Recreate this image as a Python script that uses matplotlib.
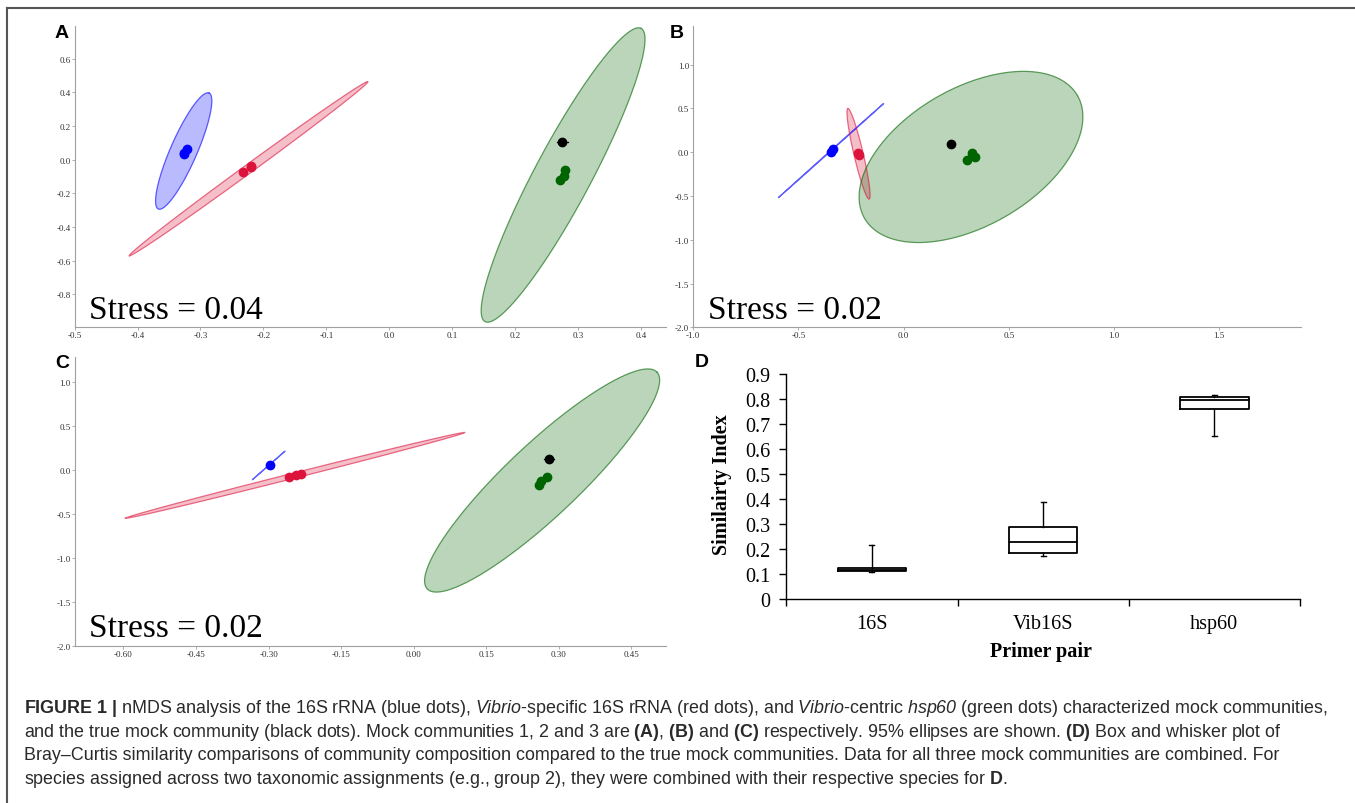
import numpy as np
import matplotlib.pyplot as plt
from matplotlib.lines import Line2D

plt.rcParams['mathtext.fontset'] = 'custom'
plt.rcParams['mathtext.rm'] = 'Liberation Sans'
plt.rcParams['mathtext.it'] = 'Liberation Sans:italic'
plt.rcParams['mathtext.sf'] = 'Liberation Sans:italic'
plt.rcParams['mathtext.bf'] = 'Liberation Sans:bold'

# ---- data ----
# nMDS panels: points per group, and 95% ellipses as (tip1, tip2, minor/major ratio)
a_blue = [(-0.327, 0.040), (-0.322, 0.063), (-0.326, 0.032)]
a_red = [(-0.232, -0.071), (-0.220, -0.042), (-0.219, -0.036)]
a_green = [(0.279, -0.059), (0.277, -0.095), (0.271, -0.121)]
a_black = [(0.275, 0.107)]
a_ell_blue = [(-0.2864, 0.3956), (-0.367, -0.293), 0.21]
a_ell_red = [(-0.413, -0.570), (-0.034, 0.463), 0.03]
a_ell_green = [(0.400, 0.779), (0.152, -0.961), 0.17]
a_black_bar = 0.0093

b_blue = [(-0.347, 0.005), (-0.338, 0.030)]
b_red = [(-0.215, -0.010), (-0.213, -0.030)]
b_green = [(0.327, -0.015), (0.339, -0.060), (0.301, -0.091)]
b_black = [(0.2255, 0.088)]
b_ell_blue = [(-0.594, -0.517), (-0.095, 0.555), 0.004]
b_ell_red = [(-0.265, 0.498), (-0.164, -0.536), 0.10]
b_ell_green = [(0.826, 0.646), (-0.186, -0.756), 0.56]

c_blue = [(-0.298, 0.061)]
c_red = [(-0.258, -0.080), (-0.244, -0.057), (-0.233, -0.038)]
c_green = [(0.276, -0.072), (0.263, -0.118), (0.259, -0.163)]
c_black = [(0.279, 0.122)]
c_ell_blue = [(-0.333, -0.106), (-0.266, 0.217), 0.004]
c_ell_red = [(-0.596, -0.547), (0.106, 0.430), 0.015]
c_ell_green = [(0.503, 1.118), (0.028, -1.353), 0.23]
c_black_bar = 0.0103

stress = ['Stress = 0.04', 'Stress = 0.02', 'Stress = 0.02']

# box plot (D)
primers = ['16S', 'Vib16S', 'hsp60']
whislo = [0.109, 0.173, 0.651]
q1 = [0.114, 0.186, 0.762]
med = [0.119, 0.229, 0.795]
q3 = [0.124, 0.288, 0.808]
whishi = [0.215, 0.390, 0.818]

W, H = 1355, 804
fig = plt.figure(figsize=(W / 100, H / 100), dpi=100)


def px_axes(l, t, r, b):
    return fig.add_axes([l / W, 1 - b / H, (r - l) / W, (b - t) / H])


def ellipse(ax, ell, color, rect):
    (x1, y1), (x2, y2), ratio = ell
    l, t, r, b = rect
    x0, x1l = ax.get_xlim()
    y0, y1l = ax.get_ylim()
    sx = (r - l) / (x1l - x0)
    sy = (b - t) / (y1l - y0)
    cx, cy = (x1 + x2) / 2, (y1 + y2) / 2
    ax_, ay_ = x1 - cx, y1 - cy
    # minor axis perpendicular in screen space
    bx = -ay_ * sy / sx * ratio
    by = ax_ * sx / sy * ratio
    tt = np.linspace(0, 2 * np.pi, 300)
    xs = cx + np.cos(tt) * ax_ + np.sin(tt) * bx
    ys = cy + np.cos(tt) * ay_ + np.sin(tt) * by
    ax.fill(xs, ys, facecolor=color, alpha=0.27, edgecolor='none', zorder=1)
    ax.plot(xs, ys, color=color, alpha=0.6, lw=0.9, zorder=2)


def dots(ax, pts, color):
    p = np.array(pts)
    ax.plot(p[:, 0], p[:, 1], 'o', color=color, ms=6, mec=color, zorder=4)


def nmds(rect, xlim, ylim, xticks, yticks, fmt_x, fmt_y):
    ax = px_axes(*rect)
    ax.set_xlim(*xlim)
    ax.set_ylim(*ylim)
    for s in ['top', 'right']:
        ax.spines[s].set_visible(False)
    for s in ['left', 'bottom']:
        ax.spines[s].set_color('#a0a0a0')
        ax.spines[s].set_linewidth(0.8)
    ax.set_xticks(xticks, [fmt_x % v if abs(v) > 1e-9 else fmt_x % 0 for v in xticks])
    ax.set_yticks(yticks, [fmt_y % v if abs(v) > 1e-9 else fmt_y % 0 for v in yticks])
    ax.tick_params(length=2, width=0.6, color='#a0a0a0', pad=1,
                   labelsize=6.5, labelcolor='#333333')
    for lab in ax.get_xticklabels() + ax.get_yticklabels():
        lab.set_family('Liberation Serif')
    return ax


blue, red, green = '#0000ff', '#dc143c', '#006400'

# A
rA = (74.6, 27, 665.7, 328)
axA = nmds(rA, (-0.5, 0.439), (-0.993, 0.793), np.arange(-0.5, 0.45, 0.1),
           np.arange(-0.8, 0.65, 0.2), '%.1f', '%.1f')
ellipse(axA, a_ell_blue, blue, rA)
ellipse(axA, a_ell_red, red, rA)
ellipse(axA, a_ell_green, green, rA)
for (x, y) in a_black:
    axA.plot([x - a_black_bar, x + a_black_bar], [y, y], color='k', lw=0.9, zorder=3)
dots(axA, a_blue, blue)
dots(axA, a_red, red)
dots(axA, a_green, green)
dots(axA, a_black, 'black')

# B
rB = (693.2, 27, 1301.4, 328.3)
axB = nmds(rB, (-1.0, 1.89), (-2.0, 1.44), np.arange(-1.0, 1.6, 0.5),
           np.arange(-2.0, 1.1, 0.5), '%.1f', '%.1f')
ellipse(axB, b_ell_blue, blue, rB)
ellipse(axB, b_ell_red, red, rB)
ellipse(axB, b_ell_green, green, rB)
dots(axB, b_blue, blue)
dots(axB, b_red, red)
dots(axB, b_green, green)
dots(axB, b_black, 'black')

# C
rC = (74.6, 358, 665.7, 646.7)
axC = nmds(rC, (-0.701, 0.521), (-2.0, 1.29), np.arange(-0.60, 0.5, 0.15),
           np.arange(-2.0, 1.1, 0.5), '%.2f', '%.1f')
ellipse(axC, c_ell_blue, blue, rC)
ellipse(axC, c_ell_red, red, rC)
ellipse(axC, c_ell_green, green, rC)
for (x, y) in c_black:
    axC.plot([x - c_black_bar, x + c_black_bar], [y, y], color='k', lw=0.9, zorder=3)
dots(axC, c_blue, blue)
dots(axC, c_red, red)
dots(axC, c_green, green)
dots(axC, c_black, 'black')

for (x, y), s in zip([(88.9, 319), (707.9, 319), (88.9, 637.3)], stress):
    fig.text(x / W, 1 - y / H, s, fontsize=24, family='Liberation Serif',
             va='baseline', ha='left')

# D
axD = px_axes(786.3, 375, 1299.9, 600.3)
stats = [dict(whislo=a, q1=b, med=c, q3=d, whishi=e, fliers=[])
         for a, b, c, d, e in zip(whislo, q1, med, q3, whishi)]
lp = dict(color='black', lw=1.3)
axD.bxp(stats, positions=[0.5, 1.5, 2.5], widths=0.4, capwidths=0.03,
        showfliers=False, boxprops=lp, medianprops=lp, whiskerprops=dict(color='black', lw=1),
        capprops=dict(color='black', lw=1), manage_ticks=False)
axD.set_xlim(0, 3)
axD.set_ylim(0, 0.9)
for s in ['top', 'right']:
    axD.spines[s].set_visible(False)
for s in ['left', 'bottom']:
    axD.spines[s].set_linewidth(1)
yt = np.round(np.arange(0, 0.95, 0.1), 1)
axD.set_yticks(yt, ['0' if v == 0 else '%.1f' % v for v in yt])
axD.set_xticks([0, 1, 2, 3], ['', '', '', ''])
axD.set_xticks([0.5, 1.5, 2.5], primers, minor=True)
axD.tick_params(which='major', direction='out', length=4.7, width=1, pad=7,
                labelsize=14.5)
axD.tick_params(which='minor', length=0, pad=10.5, labelsize=14.5)
for lab in axD.get_yticklabels() + axD.get_xticklabels(minor=True):
    lab.set_family('Liberation Serif')
fig.text(721.8 / W, 1 - 485 / H, 'Similairty Index', rotation=90, fontsize=14.5,
         fontweight='bold', family='Liberation Serif', ha='center', va='center')
fig.text(1040.7 / W, 1 - 652 / H, 'Primer pair', fontsize=14.5,
         fontweight='bold', family='Liberation Serif', ha='center', va='center')

# panel letters
for (x, y), s in zip([(55, 24.5), (670, 24.5), (55, 354.5), (695, 354)], 'ABCD'):
    fig.text(x / W, 1 - y / H, s, fontsize=14, fontweight='bold',
             family='Liberation Sans', ha='left', va='top')

# frame (top and left edges)
fig.add_artist(Line2D([7.5 / W, 1], [1 - 8.5 / H, 1 - 8.5 / H], color='#555555', lw=1.5))
fig.add_artist(Line2D([7.5 / W, 7.5 / W], [0, 1 - 8.5 / H], color='#555555', lw=1.5))

# caption
caption = [
    r'$\mathbf{FIGURE\ 1\ |}$ nMDS analysis of the 16S rRNA (blue dots), $\mathit{Vibrio}$-specific 16S rRNA (red dots), and $\mathit{Vibrio}$-centric $\mathsf{hsp60}$ (green dots) characterized mock communities,',
    r'and the true mock community (black dots). Mock communities 1, 2 and 3 are $\mathbf{(A)}$, $\mathbf{(B)}$ and $\mathbf{(C)}$ respectively. 95% ellipses are shown. $\mathbf{(D)}$ Box and whisker plot of',
    'Bray–Curtis similarity comparisons of community composition compared to the true mock communities. Data for all three mock communities are combined. For',
    r'species assigned across two taxonomic assignments (e.g., group 2), they were combined with their respective species for $\mathbf{D}$.',
]
for i, line in enumerate(caption):
    fig.text(24 / W, 1 - (713 + i * 23.7) / H, line, fontsize=12.9,
             family='Liberation Sans', color='#2a2a2a', va='baseline', ha='left')

fig.savefig('out.png', dpi=100)
